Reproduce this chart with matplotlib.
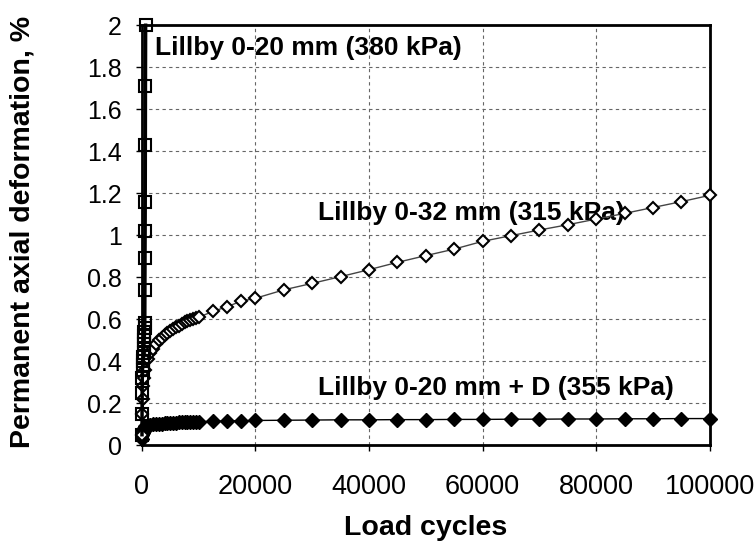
import matplotlib.pyplot as plt

plt.rcParams['font.family'] = ['Liberation Sans', 'DejaVu Sans']

# Lillby 0-20 mm (380 kPa), open squares
cyc_20 = [10, 20, 40, 60, 100, 150, 200, 250, 300, 330, 360, 390, 420, 450, 480, 500,
          520, 540, 560, 580, 600, 620, 650]
def_20 = [0.05, 0.15, 0.25, 0.32, 0.36, 0.38, 0.40, 0.42, 0.44, 0.46, 0.48, 0.50,
          0.52, 0.54, 0.56, 0.58, 0.74, 0.89, 1.02, 1.16, 1.43, 1.71, 2.0]

# Lillby 0-32 mm (315 kPa), open diamonds
cyc_32 = [10, 50, 100, 200, 300, 500, 1000, 1500, 2000, 2500, 3000, 3500, 4000, 4500,
          5000, 5500, 6000, 6500, 7000, 7500, 8000, 8500, 9000, 9500, 10000, 12500,
          15000, 17500, 20000, 25000, 30000, 35000, 40000, 45000, 50000, 55000, 60000,
          65000, 70000, 75000, 80000, 85000, 90000, 95000, 100000]
def_32 = [0.05, 0.15, 0.22, 0.28, 0.32, 0.36, 0.41, 0.44, 0.46, 0.48, 0.50, 0.51, 0.525,
          0.535, 0.545, 0.555, 0.565, 0.57, 0.578, 0.585, 0.59, 0.595, 0.60, 0.605, 0.61,
          0.637, 0.66, 0.686, 0.70, 0.74, 0.771, 0.803, 0.836, 0.871, 0.903, 0.934, 0.971,
          0.998, 1.025, 1.05, 1.077, 1.104, 1.132, 1.16, 1.19]

# Lillby 0-20 mm + D (355 kPa), filled diamonds
cyc_d = cyc_32
def_d = [0.03, 0.05, 0.06, 0.07, 0.08, 0.09, 0.095, 0.098, 0.10, 0.101, 0.102, 0.103,
         0.104, 0.105, 0.106, 0.107, 0.108, 0.109, 0.109, 0.110, 0.110, 0.111, 0.111,
         0.112, 0.112, 0.114, 0.116, 0.117, 0.118, 0.119, 0.120, 0.121, 0.121, 0.122,
         0.122, 0.123, 0.123, 0.124, 0.124, 0.125, 0.125, 0.126, 0.126, 0.127, 0.127]

fig = plt.figure(figsize=(7.55, 5.49), dpi=100)
ax = fig.add_axes([0.188, 0.189, 0.752, 0.765])

ax.plot(cyc_d, def_d, color='black', lw=1, marker='D', ms=7, mfc='black', mec='black',
        clip_on=False, zorder=3)
ax.plot(cyc_32, def_32, color='#444444', lw=1, marker='D', ms=6.5, mfc='white', mec='black',
        mew=1.5, clip_on=False, zorder=4)
ax.plot(cyc_20, def_20, color='black', lw=2.5, marker='s', ms=8, mfc='none', mec='black',
        mew=1.5, clip_on=False, zorder=5)

ax.set_xlim(0, 100000)
ax.set_ylim(0, 2)
ax.set_xticks([0, 20000, 40000, 60000, 80000, 100000])
ax.set_yticks([0, 0.2, 0.4, 0.6, 0.8, 1, 1.2, 1.4, 1.6, 1.8, 2])
ax.set_yticklabels(['0', '0.2', '0.4', '0.6', '0.8', '1', '1.2', '1.4', '1.6', '1.8', '2'])
ax.tick_params(axis='x', labelsize=19.5, direction='out', length=4.5, width=1, pad=16)
ax.tick_params(axis='y', labelsize=18, direction='out', length=4.5, width=1, pad=10)
ax.grid(True, color='#666666', linestyle=(0, (3, 3)), linewidth=0.8)
for s in ax.spines.values():
    s.set_linewidth(2)

ax.set_xlabel('Load cycles', fontsize=20.5, fontweight='bold')
ax.xaxis.set_label_coords(0.5, -0.165)
ax.set_ylabel('Permanent axial deformation, %', fontsize=20.5, fontweight='bold')
ax.yaxis.set_label_coords(-0.187, 0.507)

ax.text(2300, 1.89, 'Lillby 0-20 mm (380 kPa)', fontsize=19, fontweight='bold', va='center')
ax.text(31000, 1.105, 'Lillby 0-32 mm (315 kPa)', fontsize=19, fontweight='bold', va='center')
ax.text(31000, 0.271, 'Lillby 0-20 mm + D (355 kPa)', fontsize=19, fontweight='bold', va='center')

plt.savefig('out.png', dpi=100)
